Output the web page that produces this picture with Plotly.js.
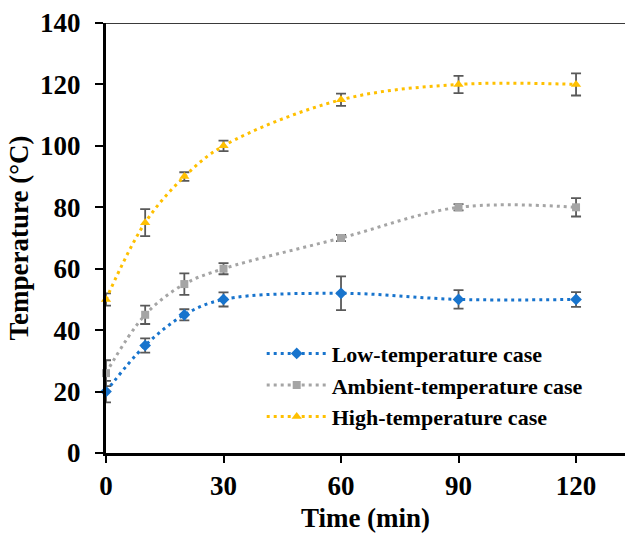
<!DOCTYPE html>
<html>
<head>
<meta charset="utf-8">
<script src="https://cdn.plot.ly/plotly-3.0.1.min.js"></script>
<style>
  html, body { margin: 0; padding: 0; background: #fff; }
  #chart { width: 629px; height: 533px; }
</style>
</head>
<body>
<div id="chart"></div>
<script>
// Sampling times (min)
const timeMin = [0, 10, 20, 30, 60, 90, 120];

// Mean temperature (°C) and error half-widths for each case
const lowTemp = [20, 35, 45, 50, 52, 50, 50];
const lowErr = [3.5, 2.3, 1.8, 2.3, 5.5, 3.0, 2.4];

const ambientTemp = [26, 45, 55, 60, 70, 80, 80];
const ambientErr = [4.2, 3.0, 3.5, 1.8, 1.0, 1.0, 3.0];

const highTemp = [50, 75, 90, 100, 115, 120, 120];
const highErr = [2.0, 4.4, 1.4, 1.7, 2.0, 2.8, 3.6];

const seriesNames = ['Low-temperature case', 'Ambient-temperature case', 'High-temperature case'];
const xTicks = [0, 30, 60, 90, 120];
const yTicks = [0, 20, 40, 60, 80, 100, 120, 140];

const serif = 'Liberation Serif, Times New Roman, serif';
const errStyle = (arr) => ({ type: 'data', array: arr, visible: true, color: '#595959', thickness: 1.8, width: 5 });

function series(name, y, err, color, symbol, size) {
  return {
    x: timeMin, y: y, name: name, type: 'scatter', mode: 'lines+markers',
    line: { color: color, width: 3, dash: '3px,4px', shape: 'spline', smoothing: 1 },
    marker: { color: color, symbol: symbol, size: size },
    error_y: errStyle(err),
    cliponaxis: false
  };
}

const data = [
  series(seriesNames[0], lowTemp, lowErr, '#1874CD', 'diamond', 9),
  series(seriesNames[1], ambientTemp, ambientErr, '#A5A5A5', 'square', 8),
  series(seriesNames[2], highTemp, highErr, '#FFC000', 'triangle-up', 9)
];

const layout = {
  width: 629, height: 533,
  margin: { l: 106, r: 4, t: 23, b: 80 },
  paper_bgcolor: '#fff', plot_bgcolor: '#fff',
  showlegend: true,
  legend: {
    x: 0.30, y: 0.28, xanchor: 'left', yanchor: 'top',
    bgcolor: 'rgba(0,0,0,0)', itemwidth: 60,
    font: { family: serif, size: 22, color: '#000', weight: 'bold' },
    tracegroupgap: 0
  },
  xaxis: {
    range: [0, 132.5], tickvals: xTicks, ticktext: xTicks.map(String),
    showgrid: false, zeroline: false,
    showline: true, linecolor: '#000', linewidth: 3,
    ticks: 'outside', ticklen: 7, tickwidth: 2, tickcolor: '#000',
    tickfont: { family: serif, size: 27, color: '#000', weight: 'bold' },
    title: { text: 'Time (min)', font: { family: serif, size: 27, color: '#000', weight: 'bold' }, standoff: 10 }
  },
  yaxis: {
    range: [0, 140], tickvals: yTicks, ticktext: yTicks.map(String),
    showgrid: false, zeroline: false,
    showline: true, linecolor: '#000', linewidth: 3,
    ticks: 'outside', ticklen: 8, tickwidth: 2, tickcolor: '#000',
    ticklabelstandoff: 9,
    tickfont: { family: serif, size: 27, color: '#000', weight: 'bold' },
    title: { text: 'Temperature (°C)', font: { family: serif, size: 27, color: '#000', weight: 'bold' }, standoff: 4 }
  },
  shapes: [
    { type: 'line', xref: 'paper', yref: 'y', x0: 0, x1: 1, y0: 140, y1: 140,
      line: { color: '#3a3a3a', width: 2 }, layer: 'below' }
  ]
};

Plotly.newPlot('chart', data, layout, { displayModeBar: false, staticPlot: true });
</script>
</body>
</html>
